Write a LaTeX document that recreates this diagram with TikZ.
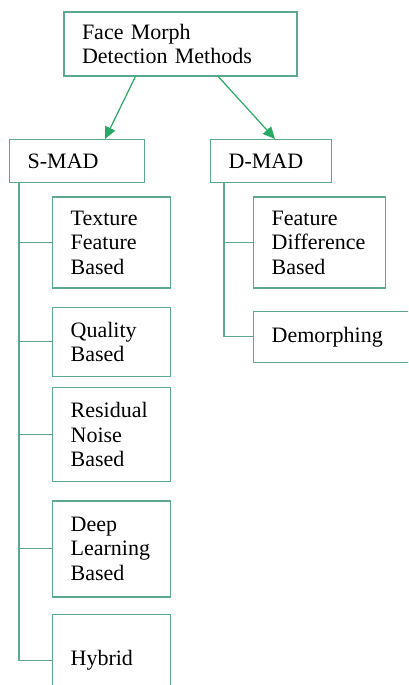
\documentclass[tikz,border=0pt]{standalone}
\usepackage{fontspec}
\setmainfont{Liberation Serif}
\usepackage{tikz}
\usetikzlibrary{positioning}
\usetikzlibrary{arrows.meta}
\definecolor{boxgreen}{RGB}{92,168,142}
\definecolor{arrowgreen}{RGB}{40,170,100}

\begin{document}
\begin{tikzpicture}[x=1pt,y=-1pt,line width=1.3pt,node distance=18pt,>={Triangle[length=12pt,width=11pt]},
	box/.style={draw=boxgreen,fill=white,align=left,inner xsep=18pt,inner ysep=0pt,font=\fontsize{22}{24.5}\selectfont},
	main node/.style={box,minimum height=43pt},
	sub node/.style={box,text width=82pt},
	link/.style={draw=boxgreen,line width=1.2pt}]

	\useasboundingbox (0,0) rectangle (408,685);
	\clip (0,0) rectangle (408,685);

	\node[box,text width=197pt,minimum height=64pt] (root) at (180.5,44) {Face Morph\\Detection Methods};
	\node[main node,text width=99pt,anchor=north west] (smad) at (9,139) {S-MAD};
	\node[main node,text width=85pt,anchor=north west] (dmad) at (210,139) {D-MAD};

	% single image branch
	\node[sub node,minimum height=91pt] (tex) [below right=13pt and 43pt of smad.south west] {Texture\\Feature\\Based};
	\node[sub node,minimum height=69pt] (qual) [below=of tex] {Quality\\Based};
	\node[sub node,minimum height=94pt] (resid) [below=10pt of qual] {Residual\\Noise\\Based};
	\node[sub node,minimum height=96pt] (deep) [below=of resid] {Deep\\Learning\\Based};
	\node[sub node,minimum height=92pt] (hyb) [below=16pt of deep] {Hybrid};

	% differential branch
	\node[box,text width=96pt,minimum height=91pt] (fdiff) [below right=13pt and 43pt of dmad.south west] {Feature\\Difference\\Based};
	\node[box,text width=124pt,minimum height=51pt] (demo) [below=22pt of fdiff.south west,anchor=north west] {Demorphing};

	\draw[->,arrowgreen,line width=1.2pt] ([xshift=72pt]root.south west) -- ([xshift=96pt]smad.north west);
	\draw[->,arrowgreen,line width=1.2pt] ([xshift=155pt]root.south west) -- ([xshift=65pt]dmad.north west);

	\coordinate (strunk) at ([xshift=10pt]smad.south west);
	\draw[link] (strunk) |- (hyb.west);
	\foreach \n in {tex,qual,resid,deep}
		\draw[link] (strunk |- \n.west) -- (\n.west);

	\coordinate (dtrunk) at ([xshift=14pt]dmad.south west);
	\draw[link] (dtrunk) |- (demo.west);
	\draw[link] (dtrunk |- fdiff.west) -- (fdiff.west);
\end{tikzpicture}
\end{document}
